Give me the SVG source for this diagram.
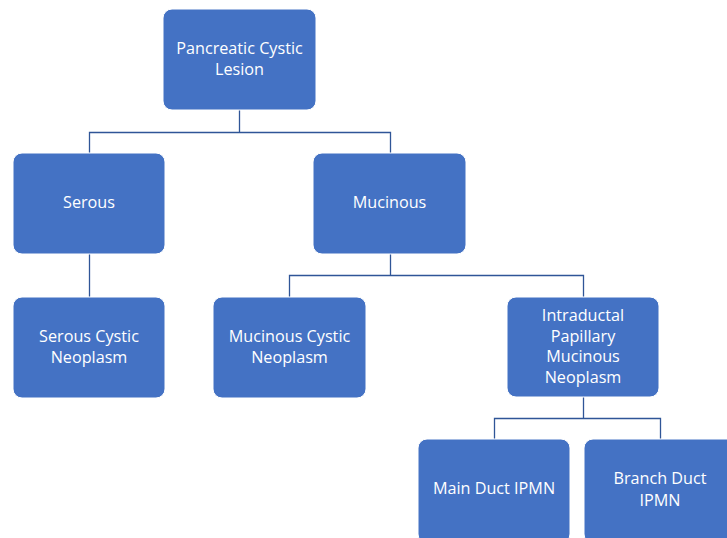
<svg xmlns="http://www.w3.org/2000/svg" width="727" height="538" viewBox="0 0 727 538">
<style>
.n{fill:#4472C4;stroke:#ffffff;stroke-width:1}
.t{font-family:"Open Sans","Noto Sans",sans-serif;font-size:16.2px;fill:#ffffff;text-anchor:middle}
.c{fill:none;stroke:#2F5597;stroke-width:1.3}
</style>
<rect width="727" height="538" fill="#ffffff"/>
<g id="connectors">
<path class="c" d="M239.5 110V132.5H89.5V153M239.5 132.5H390.5V153"/>
<path class="c" d="M89.5 254V297"/>
<path class="c" d="M390.5 254V275.5H289.5V297M390.5 275.5H583.5V297"/>
<path class="c" d="M583.5 397V418.5H494.5V439M583.5 418.5H660.5V439"/>
</g>
<g id="n-root"><rect class="n" x="163" y="9" width="153" height="101" rx="9"/><text class="t" x="239.5" y="54">Pancreatic Cystic</text><text class="t" x="239.5" y="75">Lesion</text></g>
<g id="n-serous"><rect class="n" x="13" y="153" width="152" height="101" rx="9"/><text class="t" x="89" y="208">Serous</text></g>
<g id="n-mucinous"><rect class="n" x="313" y="153" width="153" height="101" rx="9"/><text class="t" x="389.5" y="208">Mucinous</text></g>
<g id="n-scn"><rect class="n" x="13" y="297" width="152" height="101" rx="9"/><text class="t" x="89" y="342">Serous Cystic</text><text class="t" x="89" y="363">Neoplasm</text></g>
<g id="n-mcn"><rect class="n" x="213" y="297" width="153" height="101" rx="9"/><text class="t" x="289.5" y="342">Mucinous Cystic</text><text class="t" x="289.5" y="363">Neoplasm</text></g>
<g id="n-ipmn"><rect class="n" x="507" y="297" width="152" height="100" rx="9"/><text class="t" x="583" y="321">Intraductal</text><text class="t" x="583" y="342">Papillary</text><text class="t" x="583" y="362">Mucinous</text><text class="t" x="583" y="383">Neoplasm</text></g>
<g id="n-main"><rect class="n" x="418" y="439" width="152" height="104" rx="9"/><text class="t" x="494" y="494">Main Duct IPMN</text></g>
<g id="n-branch"><rect class="n" x="584" y="439" width="152" height="104" rx="9"/><text class="t" x="660" y="484">Branch Duct</text><text class="t" x="660" y="506">IPMN</text></g>
</svg>
